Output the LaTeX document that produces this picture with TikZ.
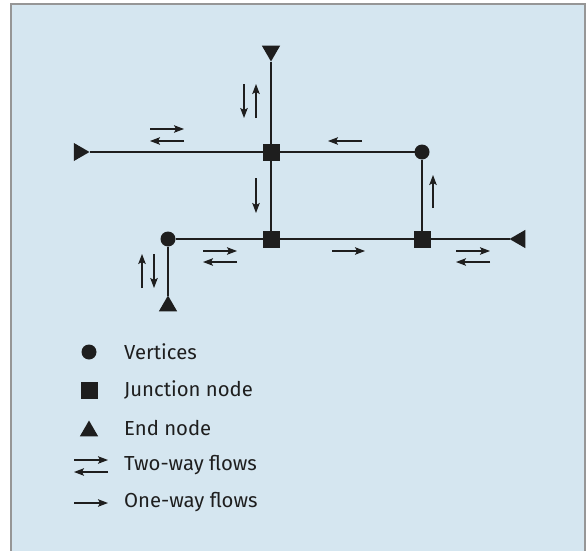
\documentclass[tikz,border=0pt]{standalone}
\usepackage{fontspec}
\setmainfont{Fira Sans}
\usetikzlibrary{arrows.meta,shapes.geometric}
\definecolor{bgblue}{RGB}{213,230,240}
\definecolor{framegray}{RGB}{150,150,150}
\definecolor{ink}{RGB}{30,30,30}
\tikzset{
  junction/.style={draw=none,fill=ink,rectangle,minimum size=17pt,inner sep=0pt,outer sep=0pt},
  vertex/.style={draw=none,fill=ink,circle,minimum size=15pt,inner sep=0pt,outer sep=0pt},
  endnode/.style={draw=none,fill=ink,regular polygon,regular polygon sides=3,minimum size=21pt,inner sep=0pt,outer sep=0pt},
  link/.style={ink,line width=2.2pt},
  flow/.style={ink,line width=1.2pt,-{Stealth[length=10pt,width=7.5pt,inset=2pt]}},
  legendtext/.style={anchor=west,text=ink,font=\fontsize{20.3}{23}\selectfont,inner sep=0pt}
}
\begin{document}
\begin{tikzpicture}[x=1pt,y=-1pt]
\useasboundingbox (0,0) rectangle (586,551);
\draw[fill=bgblue,draw=framegray,line width=2pt] (11,4) rectangle (585,560);

\node[junction] (j1) at (271,152) {};
\node[junction] (j2) at (271,239) {};
\node[junction] (j3) at (422,239) {};
\node[vertex] (v1) at (422,152) {};
\node[vertex] (v2) at (168,239) {};
\node[endnode,shape border rotate=180] (etop) at (271,51) {};
\node[endnode,shape border rotate=-90] (eleft) at (79,152) {};
\node[endnode,shape border rotate=90] (eright) at (520,239) {};
\node[endnode] (ebot) at (168,306) {};

\draw[link] (etop) -- (j1);
\draw[link] (eleft) -- (j1);
\draw[link] (j1) -- (v1);
\draw[link] (v1) -- (j3);
\draw[link] (j1) -- (j2);
\draw[link] (v2) -- (j2);
\draw[link] (j2) -- (j3);
\draw[link] (j3) -- (eright);
\draw[link] (v2) -- (ebot);

\draw[flow] (244,84) -- (244,118);
\draw[flow] (256,118) -- (256,84);
\draw[flow] (150,129) -- (184,129);
\draw[flow] (184,141) -- (150,141);
\draw[flow] (362,141) -- (328,141);
\draw[flow] (256,178) -- (256,213);
\draw[flow] (433,208) -- (433,175);
\draw[flow] (203,251) -- (237,251);
\draw[flow] (237,262) -- (203,262);
\draw[flow] (332,251) -- (365,251);
\draw[flow] (456,251) -- (490,251);
\draw[flow] (490,262) -- (456,262);
\draw[flow] (142,288) -- (142,254);
\draw[flow] (154,254) -- (154,288);

\node[vertex] (lv) at (89,352) {};
\node[junction] (lj) at (89,390) {};
\node[endnode] (le) at (89,431) {};
\coordinate (ltwoa) at (74,460);
\coordinate (ltwob) at (108,460);
\coordinate (ltwoc) at (108,472);
\coordinate (ltwod) at (74,472);
\coordinate (lonea) at (74,503);
\coordinate (loneb) at (108,503);
\draw[flow] (ltwoa) -- (ltwob);
\draw[flow] (ltwoc) -- (ltwod);
\draw[flow] (lonea) -- (loneb);

\node[legendtext] (tv) at (124,352) {Vertices};
\node[legendtext] (tj) at (124,390) {Junction node};
\node[legendtext] (te) at (124,428) {End node};
\node[legendtext] (tt) at (124,465) {Two-way flows};
\node[legendtext] (to) at (124,502) {One-way flows};
\end{tikzpicture}
\end{document}
